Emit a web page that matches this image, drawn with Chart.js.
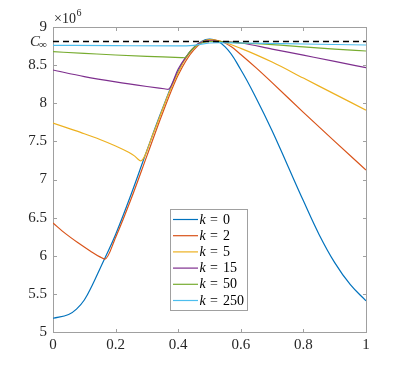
<!DOCTYPE html>
<html>
<head>
<meta charset="utf-8">
<script src="https://cdn.jsdelivr.net/npm/chart.js@4/dist/chart.umd.min.js"></script>
<style>
html,body{margin:0;padding:0;background:#fff;}
#wrap{width:405px;height:373px;position:relative;}
</style>
</head>
<body>
<div id="wrap"><canvas id="c" width="405" height="373"></canvas></div>
<script>
// ---- data (values in units of 1e6) ----
const seriesLabels = ['0', '2', '5', '15', '50', '250'];
const seriesColors = ['#0072BD', '#D95319', '#EDB120', '#7E2F8E', '#77AC30', '#4DBEEE'];

const k0x = [0,0.05,0.075,0.1,0.125,0.15,0.2,0.25,0.3,0.35,0.4,0.45,0.5,0.55,0.6,0.65,0.7,0.75,0.8,0.85,0.9,0.95,1];
const k0y = [5.18,5.23,5.30,5.42,5.61,5.83,6.28,6.81,7.38,7.93,8.42,8.73,8.84,8.74,8.44,8.06,7.64,7.18,6.72,6.28,5.91,5.62,5.41];

const k2x = [0,0.04,0.08,0.12,0.15,0.166,0.2,0.25,0.3,0.35,0.4,0.45,0.5,0.53,0.57,0.6,0.65,0.7,0.8,0.9,1];
const k2y = [6.43,6.29,6.17,6.06,5.985,5.957,6.24,6.75,7.31,7.87,8.37,8.70,8.83,8.82,8.74,8.64,8.46,8.27,7.88,7.50,7.125];

const k5x = [0,0.05,0.1,0.15,0.2,0.24,0.26,0.275,0.28,0.32,0.37,0.42,0.46,0.5,0.53,0.6,0.7,0.8,0.9,1];
const k5y = [7.74,7.67,7.60,7.525,7.44,7.36,7.31,7.255,7.245,7.60,8.13,8.56,8.76,8.83,8.82,8.72,8.54,8.33,8.12,7.91];

const k15x = [0,0.1,0.2,0.3,0.355,0.368,0.4,0.42,0.46,0.5,0.53,0.6,0.7,0.8,0.9,1];
const k15y = [8.436,8.35,8.28,8.22,8.19,8.183,8.45,8.58,8.77,8.82,8.81,8.79,8.71,8.63,8.55,8.466];

const k50x = [0,0.1,0.2,0.3,0.41,0.42,0.44,0.46,0.5,0.53,0.6,0.7,0.8,0.9,1];
const k50y = [8.676,8.655,8.633,8.615,8.599,8.597,8.69,8.76,8.81,8.81,8.79,8.77,8.74,8.71,8.685];

const k250x = [0,0.2,0.4,0.45,0.5,0.53,0.6,0.8,1];
const k250y = [8.76,8.755,8.752,8.76,8.79,8.795,8.79,8.777,8.764];

const cInfX = [0, 1];
const cInfY = [8.81, 8.81];

const xTickValues = [0, 0.2, 0.4, 0.6, 0.8, 1];
const yTickValues = [5, 5.5, 6, 6.5, 7, 7.5, 8, 8.5, 9];

// ---- build datasets ----
const xs = [k0x, k2x, k5x, k15x, k50x, k250x];
const ys = [k0y, k2y, k5y, k15y, k50y, k250y];
const pts = (a, b) => a.map((v, i) => ({x: v, y: b[i]}));

const datasets = seriesLabels.map((lab, i) => ({
  label: 'k = ' + lab,
  data: pts(xs[i], ys[i]),
  borderColor: seriesColors[i],
  backgroundColor: seriesColors[i],
  borderWidth: 1.2,
  pointRadius: 0,
  cubicInterpolationMode: i === 0 ? 'default' : 'monotone',
  tension: i === 0 ? 0.4 : 0,
  fill: false,
  order: 5 - i
}));
datasets.push({
  label: 'Cinf',
  data: pts(cInfX, cInfY),
  borderColor: '#000',
  borderWidth: 1.3,
  borderDash: [6, 4],
  pointRadius: 0,
  fill: false,
  order: -1
});

const SERIF = '"Liberation Serif", "DejaVu Serif", serif';
const fmt = v => String(Math.round(v * 10) / 10);

const decor = {
  id: 'decor',
  beforeDatasetsDraw(chart) {
    const {ctx, chartArea: a, scales: {x, y}} = chart;
    ctx.save();
    ctx.strokeStyle = '#a0a0a0';
    ctx.lineWidth = 1;
    const L = Math.round(a.left) + 0.5, R = Math.round(a.right) + 0.5;
    const T = Math.round(a.top) + 0.5, B = Math.round(a.bottom) + 0.5;
    ctx.strokeRect(L, T, R - L, B - T);
    ctx.beginPath();
    const tl = 3.5;
    xTickValues.forEach(v => {
      const px = Math.round(x.getPixelForValue(v)) + 0.5;
      ctx.moveTo(px, B); ctx.lineTo(px, B - tl);
      ctx.moveTo(px, T); ctx.lineTo(px, T + tl);
    });
    yTickValues.forEach(v => {
      const py = Math.round(y.getPixelForValue(v)) + 0.5;
      ctx.moveTo(L, py); ctx.lineTo(L + tl, py);
      ctx.moveTo(R, py); ctx.lineTo(R - tl, py);
    });
    ctx.stroke();
    ctx.restore();
  },
  afterDraw(chart) {
    const {ctx, chartArea: a, scales: {y}} = chart;
    ctx.save();
    // exponent label
    ctx.fillStyle = '#262626';
    ctx.textBaseline = 'alphabetic';
    ctx.textAlign = 'left';
    ctx.font = '14px ' + SERIF;
    ctx.fillText('\u00d710', a.left + 1, 23);
    const w = ctx.measureText('\u00d710').width;
    ctx.font = '10px ' + SERIF;
    ctx.fillText('6', a.left + 1 + w + 0.5, 16);
    // C_inf label
    const cy = y.getPixelForValue(cInfY[0]);
    ctx.font = 'italic 15px ' + SERIF;
    ctx.textAlign = 'left';
    ctx.fillText('C', 30, cy + 5);
    const cw = ctx.measureText('C').width;
    ctx.font = '11px ' + SERIF;
    ctx.fillText('\u221e', 30 + cw - 1, cy + 7);

    // legend
    const bx = 170.5, by = 209.5, bw = 77, bh = 101;
    ctx.fillStyle = '#fff';
    ctx.fillRect(bx, by, bw, bh);
    ctx.strokeStyle = '#a0a0a0';
    ctx.lineWidth = 1;
    ctx.strokeRect(bx, by, bw, bh);
    const rowH = 16.2;
    seriesLabels.forEach((lab, i) => {
      const ry = 219 + i * rowH;
      ctx.strokeStyle = seriesColors[i];
      ctx.lineWidth = 1.2;
      ctx.beginPath();
      ctx.moveTo(173, ry + 0.5); ctx.lineTo(198, ry + 0.5);
      ctx.stroke();
      ctx.fillStyle = '#000';
      ctx.textBaseline = 'middle';
      ctx.font = 'italic 14px ' + SERIF;
      ctx.fillText('k', 199.5, ry + 1);
      ctx.font = '14px ' + SERIF;
      ctx.fillText('=', 210, ry + 1);
      ctx.fillText(lab, 223, ry + 1);
    });
    ctx.restore();
  }
};

new Chart(document.getElementById('c'), {
  type: 'line',
  data: { datasets },
  options: {
    responsive: false,
    animation: false,
    devicePixelRatio: 1,
    layout: { padding: { top: 27, right: 39, left: 0, bottom: 0 } },
    plugins: { legend: { display: false }, tooltip: { enabled: false } },
    scales: {
      x: {
        type: 'linear', min: 0, max: 1,
        afterBuildTicks: s => { s.ticks = xTickValues.map(v => ({value: v})); },
        afterFit: s => { s.height = 41; },
        ticks: { callback: fmt, font: { family: SERIF, size: 15 }, color: '#262626', padding: 4, maxRotation: 0, autoSkip: false },
        grid: { display: false, drawTicks: false },
        border: { display: false }
      },
      y: {
        type: 'linear', min: 5, max: 9,
        afterBuildTicks: s => { s.ticks = yTickValues.map(v => ({value: v})); },
        afterFit: s => { s.width = 53; },
        ticks: { callback: fmt, font: { family: SERIF, size: 15 }, color: '#262626', padding: 6, autoSkip: false },
        grid: { display: false, drawTicks: false },
        border: { display: false }
      }
    }
  },
  plugins: [decor]
});
</script>
</body>
</html>
